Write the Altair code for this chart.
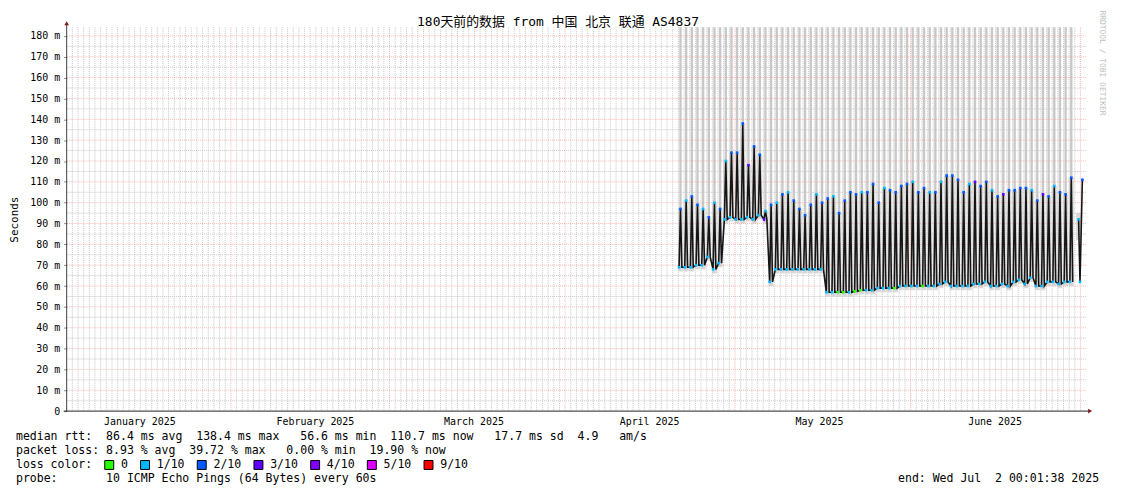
import altair as alt
import pandas as pd

NB = "\u00a0"


def nb(s):
    return s.replace(" ", NB)


# ---------------- texts ----------------
TITLE = "180天前的数据 from 中国 北京 联通 AS4837"
Y_TITLE = "Seconds"
SIDE_TEXT = "RRDTOOL / TOBI OETIKER"
STAT_LINES = [
    "median rtt:  86.4 ms avg  138.4 ms max   56.6 ms min  110.7 ms now   17.7 ms sd  4.9   am/s",
    "packet loss: 8.93 % avg  39.72 % max   0.00 % min  19.90 % now",
    "loss color:",
    "probe:       10 ICMP Echo Pings (64 Bytes) every 60s",
]
END_TEXT = "end: Wed Jul  2 00:01:38 2025"

# ---------------- series ----------------
FIRST_DAY = "2025-04-21"
high = [97, 101, 103, 99, 97, 93, 100, 97, 120, 124,
        124, 138, 118, 127, 123, 96, 99, 100, 104, 105,
        101, 97, 94, 99, 104, 100, 102, 103, 95, 101,
        105, 104, 105, 105, 109, 100, 107, 106, 105, 108,
        109, 110, 105, 107, 105, 105, 110, 113, 113, 111,
        105, 109, 110, 108, 110, 106, 103, 104, 106, 106,
        107, 107, 106, 101, 104, 103, 108, 105, 104, 112]
low = [69, 69, 69, 70, 70, 74, 68, 71, 92, 93,
       92, 92, 93, 92, 94, 92, 62, 68, 68, 68,
       68, 68, 68, 68, 68, 68, 57, 57, 57, 57,
       57, 57.5, 58, 58, 58, 59, 59, 59, 59, 60,
       60, 60, 60, 60, 60, 60, 61, 62, 60, 60,
       60, 60, 61, 61, 62, 60, 60, 61, 60, 62,
       63, 61, 64, 60, 60, 62, 62, 61, 62, 62]
high_loss = ("2122121212" "2232212121" "2222122122" "2212221222"
             "2122121222" "2132212322" "2212321222")
low_loss = ("1111111111" "1111131111" "1111111100" "1001111101"
            "1110111111" "1111111111" "1111111111")
bar_flag = ("1111111111" "1111111111" "1111111111" "1111111111"
            "1111111111" "1111111111" "1111111111")
tail_times = ["2025-06-30 16:00", "2025-06-30 22:00", "2025-07-01 08:00"]
tail_values = [92, 62, 111]
tail_loss = "112"

LOSS_NAMES = ["0", "1/10", "2/10", "3/10", "4/10", "5/10", "9/10"]
LOSS_COLORS = ["#26ff00", "#00b8ff", "#0059ff", "#5e00ff", "#7e00ff", "#dd00ff", "#ff0000"]
CODE = {"0": "0", "1": "1/10", "2": "2/10", "3": "3/10", "4": "4/10", "5": "5/10", "9": "9/10"}

Y_TICKS = list(range(0, 181, 10))
Y_MINOR = list(range(5, 180, 10))
MONTH_STARTS = ["2025-02-01", "2025-03-01", "2025-04-01", "2025-05-01", "2025-06-01", "2025-07-01"]
MONTH_LABEL_AT = [(1, 15), (2, 15), (3, 15), (4, 15), (5, 15), (6, 15)]

# ---------------- frames ----------------
FMT = "%Y-%m-%dT%H:%M:%S"
day0 = pd.Timestamp(FIRST_DAY)
pts, dots, smoke, bars = [], [], [], []
for i, (lo, hi) in enumerate(zip(low, high)):
    d = day0 + pd.Timedelta(days=i)
    t_lo = (d + pd.Timedelta(hours=3)).strftime(FMT)
    t_hi = (d + pd.Timedelta(hours=9)).strftime(FMT)
    t_back = (d + pd.Timedelta(hours=15)).strftime(FMT)
    pts += [{"t": t_lo, "v": lo, "seg": 0}, {"t": t_hi, "v": hi, "seg": 0}, {"t": t_back, "v": lo, "seg": 0}]
    dots += [{"t": t_lo, "v": lo, "loss": CODE[low_loss[i]]}, {"t": t_hi, "v": hi, "loss": CODE[high_loss[i]]}]
    smoke.append({"t": t_hi, "lo": lo - 2, "hi": hi})
    if bar_flag[i] == "1":
        bars.append({"t0": (d + pd.Timedelta(hours=4)).strftime(FMT),
                     "t1": (d + pd.Timedelta(hours=14)).strftime(FMT), "v": hi})
for t, v, c in zip(tail_times, tail_values, tail_loss):
    ts = pd.Timestamp(t).strftime(FMT)
    pts.append({"t": ts, "v": v, "seg": 1})
    dots.append({"t": ts, "v": v, "loss": CODE[c]})
smoke.append({"t": pd.Timestamp(tail_times[0]).strftime(FMT), "lo": tail_values[0] - 10, "hi": tail_values[0] + 3})
pts = pd.DataFrame(pts)
dots = pd.DataFrame(dots)
smoke = pd.DataFrame(smoke)
bars = pd.DataFrame(bars)

days = pd.date_range("2025-01-04", "2025-07-01", freq="D")
vminor = pd.DataFrame({"t": [d.strftime(FMT) for d in days if d.day != 1]})
vmajor = pd.DataFrame({"t": [pd.Timestamp(m).strftime(FMT) for m in MONTH_STARTS]})
hminor = pd.DataFrame({"v": Y_MINOR})
hmajor = pd.DataFrame({"v": Y_TICKS[1:]})

# ---------------- scales ----------------
Y_TOP = 184.2
xscale = alt.Scale(domain=[alt.DateTime(year=2025, month=1, date=3, hours=0, minutes=1, seconds=38),
                           alt.DateTime(year=2025, month=7, date=2, hours=0, minutes=1, seconds=38)])
yscale = alt.Scale(domain=[0, Y_TOP], nice=False, zero=False)
MONO = "DejaVu Sans Mono"

W, H = 1025, 386

bar_layer = alt.Chart(bars).mark_rect(color="#c8c8c8").encode(
    x=alt.X("t0:T", scale=xscale, axis=None), x2="t1:T",
    y=alt.Y("v:Q", scale=yscale, axis=None), y2=alt.datum(Y_TOP))

smoke_layer = alt.Chart(smoke).mark_rule(color="#a0a0a0", opacity=0.4, strokeWidth=5).encode(
    x=alt.X("t:T", scale=xscale, axis=None),
    y=alt.Y("lo:Q", scale=yscale, axis=None), y2="hi:Q")

hminor_layer = alt.Chart(hminor).mark_rule(color="#c8c8c8", strokeDash=[1, 1], strokeWidth=1).encode(
    y=alt.Y("v:Q", scale=yscale, axis=alt.Axis(
        values=Y_TICKS, grid=False, domain=False,
        labelExpr="datum.value == 0 ? '0" + NB + NB + "' : datum.value + '" + NB + "m'",
        labelFont=MONO, labelFontSize=10, labelColor="black", labelPadding=4,
        tickSize=3, tickColor="#808080",
        title=Y_TITLE, titleFont=MONO, titleFontSize=11, titleFontWeight="normal",
        titleColor="black", titleX=-52, titleY=H / 2, titleBaseline="middle", titleAlign="center")))

vminor_layer = alt.Chart(vminor).mark_rule(color="#c8c8c8", strokeDash=[1, 1], strokeWidth=1).encode(
    x=alt.X("t:T", scale=xscale, axis=alt.Axis(
        values=[alt.DateTime(year=2025, month=m, date=dd, hours=20) for m, dd in MONTH_LABEL_AT],
        format="%B %Y", grid=False, domain=False, ticks=False, labelFlush=False,
        labelFont=MONO, labelFontSize=10, labelColor="black", labelPadding=5, title=None)))

hmajor_layer = alt.Chart(hmajor).mark_rule(color="#f4a0a0", strokeDash=[1, 1], strokeWidth=1, opacity=0.75).encode(
    y=alt.Y("v:Q", scale=yscale, axis=None))
vmajor_layer = alt.Chart(vmajor).mark_rule(color="#f4a0a0", strokeDash=[1, 1], strokeWidth=1, opacity=0.75).encode(
    x=alt.X("t:T", scale=xscale, axis=None))

line_layer = alt.Chart(pts).mark_line(color="#151515", strokeWidth=1.6).encode(
    x=alt.X("t:T", scale=xscale, axis=None),
    y=alt.Y("v:Q", scale=yscale, axis=None),
    detail="seg:N")

dot_layer = alt.Chart(dots).mark_square(size=7, opacity=1).encode(
    x=alt.X("t:T", scale=xscale, axis=None),
    y=alt.Y("v:Q", scale=yscale, axis=None),
    color=alt.Color("loss:N", scale=alt.Scale(domain=LOSS_NAMES, range=LOSS_COLORS),
                    legend=alt.Legend(orient="none", legendX=37, legendY=434, direction="horizontal",
                                      title=None, symbolType="square", symbolSize=81,
                                      symbolStrokeColor="black", symbolStrokeWidth=1, symbolOpacity=1,
                                      labelFont=MONO, labelFontSize=11.6, labelColor="black",
                                      labelOffset=6, columnPadding=10, padding=0)))

one = pd.DataFrame({"k": [0]})
axis_lines = [
    alt.Chart(one).mark_rule(color="#404040", strokeWidth=1).encode(
        x=alt.value(0), y=alt.value(-4), y2=alt.value(H)),
    alt.Chart(one).mark_rule(color="#202020", strokeWidth=1).encode(
        x=alt.value(-3), x2=alt.value(W + 4), y=alt.value(H)),
    alt.Chart(one).mark_point(shape="triangle-up", filled=True, size=22, color="#7f1d1d", opacity=1).encode(
        x=alt.value(0), y=alt.value(-4)),
    alt.Chart(one).mark_point(shape="triangle-right", filled=True, size=22, color="#7f1d1d", opacity=1).encode(
        x=alt.value(W + 4), y=alt.value(H)),
]

texts = []
texts.append(alt.Chart(pd.DataFrame({"s": [TITLE]})).mark_text(
    font=MONO + ", Noto Sans CJK SC", fontSize=13, align="center", baseline="middle", color="black").encode(
    text="s:N", x=alt.value(494), y=alt.value(-5)))
texts.append(alt.Chart(pd.DataFrame({"s": [SIDE_TEXT]})).mark_text(
    font=MONO, fontSize=8, angle=90, align="center", baseline="middle", color="#c0c0c0").encode(
    text="s:N", x=alt.value(1041), y=alt.value(36)))
for k, line in enumerate(STAT_LINES):
    texts.append(alt.Chart(pd.DataFrame({"s": [nb(line)]})).mark_text(
        font=MONO, fontSize=11.6, align="left", baseline="middle", color="black").encode(
        text="s:N", x=alt.value(-51), y=alt.value(412 + 14 * k)))
texts.append(alt.Chart(pd.DataFrame({"s": [nb(END_TEXT)]})).mark_text(
    font=MONO, fontSize=11.6, align="right", baseline="middle", color="black").encode(
    text="s:N", x=alt.value(1038), y=alt.value(454)))

chart = alt.layer(
    bar_layer, smoke_layer, hminor_layer, vminor_layer, hmajor_layer, vmajor_layer,
    line_layer, dot_layer, *axis_lines, *texts
).resolve_axis(x="independent", y="independent").properties(
    width=W, height=H, autosize="none",
    padding={"left": 59, "top": 18, "right": 27, "bottom": 74},
    background="white",
).configure_view(stroke=None)

chart.save("out.html", embed_options={"renderer": "svg", "actions": False})
